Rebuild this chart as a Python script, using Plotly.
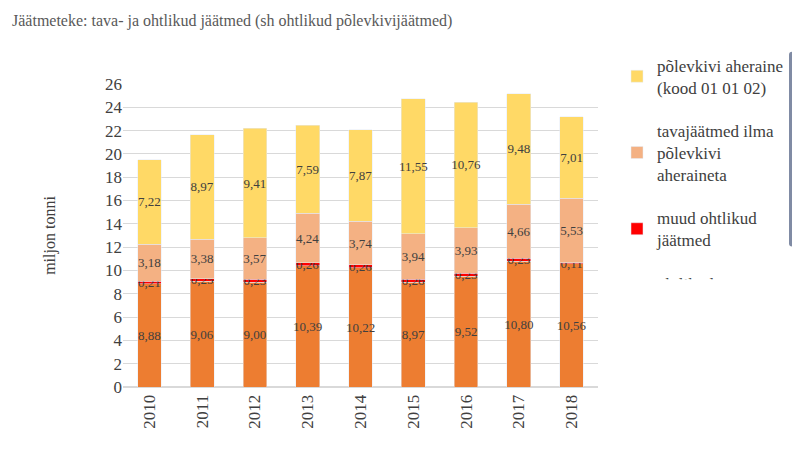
import plotly.graph_objects as go

years = ["2010","2011","2012","2013","2014","2015","2016","2017","2018"]
ohtlikud = [8.88,9.06,9.00,10.39,10.22,8.97,9.52,10.80,10.56]
muud = [0.21,0.25,0.23,0.26,0.26,0.26,0.23,0.23,0.11]
tava = [3.18,3.38,3.57,4.24,3.74,3.94,3.93,4.66,5.53]
aheraine = [7.22,8.97,9.41,7.59,7.87,11.55,10.76,9.48,7.01]

series = [
    ("ohtlikud<br>põlevkivijäätmed", ohtlikud, "#ED7D31"),
    ("muud ohtlikud<br>jäätmed", muud, "#FF0000"),
    ("tavajäätmed ilma<br>põlevkivi<br>aheraineta", tava, "#F4B183"),
    ("põlevkivi aheraine<br>(kood 01 01 02)", aheraine, "#FFD966"),
]

fig = go.Figure()
for i, (name, vals, col) in enumerate(series):
    fig.add_bar(x=years, y=vals, name=name, marker_color=col, legendgroup=str(i),
                legendrank=10 - i,
                text=vals, texttemplate="%{y:.2f}", textposition="inside",
                insidetextanchor="middle", constraintext="none", textangle=0,
                textfont=dict(color="#404040", size=13), width=0.45)

fig.update_layout(
    barmode="stack", separators=", ",
    width=800, height=463, plot_bgcolor="white", paper_bgcolor="white",
    font=dict(family="Liberation Serif", color="#404040", size=14),
    margin=dict(l=115, r=210, t=76, b=84),
    title=dict(text="Jäätmeteke: tava- ja ohtlikud jäätmed (sh ohtlikud põlevkivijäätmed)",
               x=0.005, y=0.985, xanchor="left", yanchor="top",
               font=dict(size=16, color="#595959")),
    legend=dict(x=1.04, y=1.12, xanchor="left", yanchor="top",
                traceorder="grouped", tracegroupgap=18,
                font=dict(size=17, color="#404040")),
    yaxis=dict(range=[0,26], dtick=2, gridcolor="#D9D9D9", showline=False,
               tickfont=dict(size=17), zeroline=True, zerolinecolor="#D9D9D9",
               title=dict(text="miljon tonni", font=dict(size=16), standoff=45)),
    xaxis=dict(tickangle=-90, tickfont=dict(size=17), showline=True, linecolor="#D9D9D9"),
)
fig.write_html("out.html")
